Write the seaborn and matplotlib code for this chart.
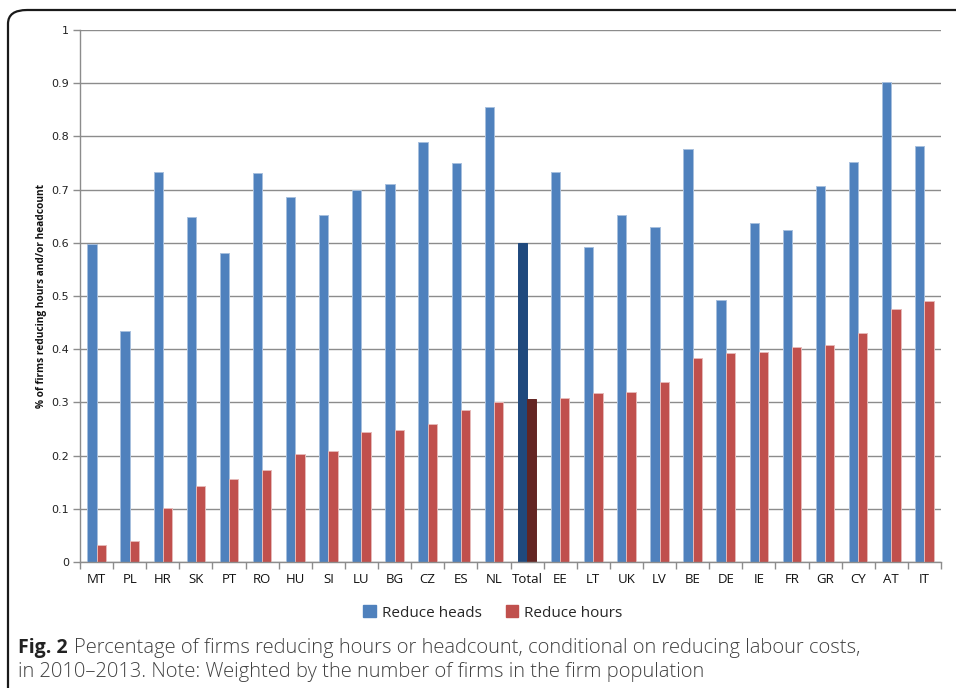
import matplotlib
matplotlib.use("Agg")
import matplotlib.pyplot as plt
from matplotlib.patches import FancyBboxPatch, Patch
import numpy as np
import pandas as pd
import seaborn as sns

countries = ["MT", "PL", "HR", "SK", "PT", "RO", "HU", "SI", "LU", "BG", "CZ", "ES", "NL",
             "Total", "EE", "LT", "UK", "LV", "BE", "DE", "IE", "FR", "GR", "CY", "AT", "IT"]
reduce_heads = [0.598, 0.435, 0.733, 0.648, 0.581, 0.731, 0.686, 0.653, 0.700, 0.710, 0.790,
                0.750, 0.855, 0.600, 0.733, 0.593, 0.653, 0.630, 0.777, 0.492, 0.638, 0.625,
                0.706, 0.751, 0.903, 0.782]
reduce_hours = [0.032, 0.039, 0.101, 0.143, 0.156, 0.172, 0.203, 0.209, 0.245, 0.249, 0.260,
                0.285, 0.300, 0.306, 0.309, 0.318, 0.320, 0.338, 0.383, 0.392, 0.394, 0.405,
                0.407, 0.430, 0.476, 0.490]
series_names = ["Reduce heads", "Reduce hours"]
y_ticks = [0, 0.1, 0.2, 0.3, 0.4, 0.5, 0.6, 0.7, 0.8, 0.9, 1]
y_tick_labels = ["0", "0.1", "0.2", "0.3", "0.4", "0.5", "0.6", "0.7", "0.8", "0.9", "1"]

df = pd.DataFrame({
    "country": countries * 2,
    "series": [series_names[0]] * len(countries) + [series_names[1]] * len(countries),
    "value": reduce_heads + reduce_hours,
})

sns.set_theme(style="white")
plt.rcParams["font.family"] = ["Open Sans", "DejaVu Sans"]

W, H = 956, 688
fig = plt.figure(figsize=(W / 100, H / 100), dpi=100)
ax = fig.add_axes([80 / W, 1 - 562 / H, (941 - 80) / W, (562 - 30) / H])

blue, red = "#4F81BD", "#C0504D"
sns.barplot(data=df, x="country", y="value", hue="series", order=countries,
            hue_order=series_names, palette=[blue, red], width=0.56, gap=0,
            saturation=1, legend=False, ax=ax)

edge_cols = ["#A7BFDE", "#E6B9B8"]
total_cols = ["#1F497D", "#632523"]
total_idx = countries.index("Total")
for k, cont in enumerate(ax.containers):
    for i, bar in enumerate(cont):
        bar.set_edgecolor(edge_cols[k])
        bar.set_linewidth(0.7)
        if i == total_idx:
            bar.set_facecolor(total_cols[k])
            bar.set_edgecolor(total_cols[k])

ax.set_xlim(-0.5, len(countries) - 0.5)
ax.set_ylim(0, 1)
ax.set_yticks(y_ticks)
ax.set_yticklabels(y_tick_labels, fontsize=8, color="#222222", family=["Verdana", "DejaVu Sans"])
ax.yaxis.grid(True, color="#8C8C8C", linewidth=1.0)
ax.set_axisbelow(True)

ax.set_xticks(range(len(countries)))
ax.set_xticklabels(countries, fontsize=9.5, color="#111111")
ax.set_xticks(np.arange(-0.5, len(countries)), minor=True)
ax.tick_params(axis="x", which="major", length=0, pad=8)
ax.tick_params(axis="x", which="minor", length=5, color="#8C8C8C", width=1, direction="out",
               bottom=True)
ax.tick_params(axis="y", length=5, color="#8C8C8C", width=1, direction="out", left=True, pad=3)

for side in ["top", "right"]:
    ax.spines[side].set_visible(False)
for side in ["left", "bottom"]:
    ax.spines[side].set_color("#8C8C8C")
    ax.spines[side].set_linewidth(1)

ax.set_xlabel("")
ax.set_ylabel("% of firms reducing hours and/or headcount", fontsize=7.3, fontweight="bold",
              color="#111111", labelpad=3)

# legend below the plot
handles = [Patch(facecolor=blue, edgecolor=blue), Patch(facecolor=red, edgecolor=red)]
fig.legend(handles, series_names, loc="center", bbox_to_anchor=(493 / W, 1 - 613 / H),
           ncol=2, frameon=False, fontsize=11, handlelength=0.8, handleheight=0.8,
           handletextpad=0.4, columnspacing=1.6)

# rounded frame around the figure panel
frame = FancyBboxPatch((8 / W, -0.1), 1.2, 0.1 + (H - 10) / H,
                       boxstyle="round,pad=0,rounding_size=0.02",
                       transform=fig.transFigure, fill=False, edgecolor="#1a1a1a",
                       linewidth=1.6, clip_on=False)
fig.patches.append(frame)

# caption: bold figure number followed by light body text
cap_color = "#404040"
cap_size = 14.5
fig_num = fig.text(18 / W, 1 - 648 / H, "Fig. 2", fontsize=cap_size - 0.5, fontweight="bold",
                   color="#222222", va="center", ha="left")
renderer = fig.canvas.get_renderer()
num_right = fig_num.get_window_extent(renderer).x1
fig.text((num_right + 6) / W, 1 - 648 / H,
         "Percentage of firms reducing hours or headcount, conditional on reducing labour costs,",
         fontsize=cap_size, fontweight="light", color=cap_color, va="center", ha="left")
fig.text(18 / W, 1 - 672 / H,
         "in 2010\u20132013. Note: Weighted by the number of firms in the firm population",
         fontsize=cap_size, fontweight="light", color=cap_color, va="center", ha="left")

fig.savefig("out.png", dpi=100)
